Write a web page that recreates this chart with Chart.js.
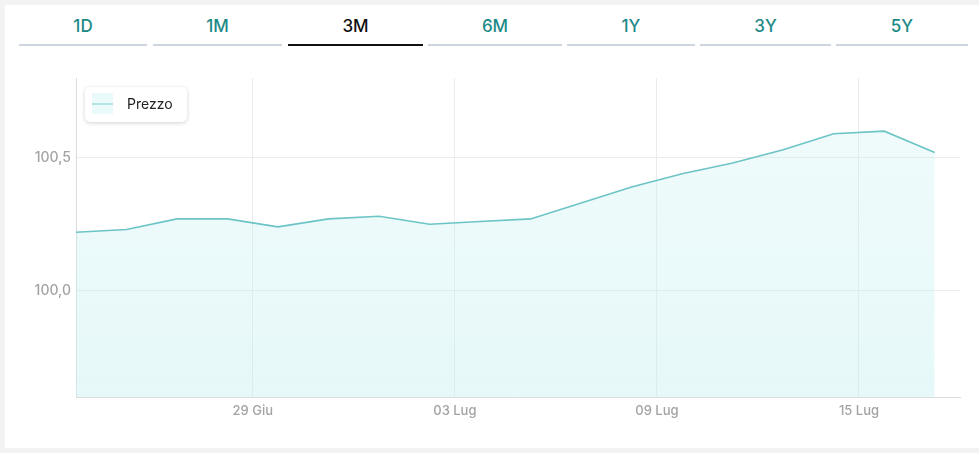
<!DOCTYPE html>
<html>
<head>
<meta charset="utf-8">
<script src="https://cdn.jsdelivr.net/npm/chart.js@4"></script>
<style>
    body { margin: 0; background: #f3f3f3; font-family: Inter, "Noto Sans", sans-serif; }
    .card { position: absolute; left: 5px; top: 5px; width: 974px; height: 443px; background: #fff; }
    .tabs { position: absolute; left: 0; top: 0; width: 979px; height: 50px; }
    .tab { position: absolute; top: 14px; height: 32px; text-align: center; font-size: 17px; font-weight: 500; color: #1b8a86; border-bottom: 2px solid #cdd5de; box-sizing: border-box; line-height: 25px; }
    .tab.active { color: #111; border-bottom-color: #111; }
    .wrap { position: absolute; left: 0; top: 0; width: 979px; height: 453px; }
    .legend { position: absolute; left: 85px; top: 87px; width: 102px; height: 35px; background: #fff; border-radius: 5px; box-shadow: 0 1px 4px rgba(0,0,0,0.18); }
    .legend .sw { position: absolute; left: 7px; top: 6px; width: 21px; height: 21px; background: #eafafa; }
    .legend .sw:after { content: ""; position: absolute; left: 0; top: 10px; width: 21px; height: 2px; background: #b5e4e4; }
    .legend span { position: absolute; left: 42px; top: 8px; font-size: 14px; color: #222; }
</style>
</head>
<body>
<div class="card"></div>
<div class="tabs" id="tabs"></div>
<div class="wrap"><canvas id="chart" width="979" height="453"></canvas></div>
<div class="legend"><div class="sw"></div><span>Prezzo</span></div>
<script>
var periods = ["1D", "1M", "3M", "6M", "1Y", "3Y", "5Y"];
var activePeriod = "3M";

var prices = [100.22, 100.23, 100.27, 100.27, 100.24, 100.27, 100.28, 100.25, 100.26,
    100.27, 100.33, 100.39, 100.44, 100.48, 100.53, 100.59, 100.60, 100.52];
var tickLabels = ["29 Giu", "03 Lug", "09 Lug", "15 Lug"];
var tickPositions = [3.5, 7.5, 11.5, 15.5];
var yTicks = [100.0, 100.5];

// tabs
var tabLeft = [19, 153, 288, 428, 567, 700, 836];
var tabRight = [147, 282, 423, 562, 695, 831, 968];
var tabs = document.getElementById("tabs");
periods.forEach(function (p, i) {
    var d = document.createElement("div");
    d.className = "tab" + (p == activePeriod ? " active" : "");
    d.style.left = tabLeft[i] + "px";
    d.style.width = (tabRight[i] - tabLeft[i]) + "px";
    d.textContent = p;
    tabs.appendChild(d);
});

var points = prices.map(function (v, i) { return { x: i, y: v }; });

var ctx = document.getElementById("chart").getContext('2d');
var grad = ctx.createLinearGradient(0, 78, 0, 397);
grad.addColorStop(0, 'rgba(200, 240, 242, 0.25)');
grad.addColorStop(1, 'rgba(200, 240, 242, 0.45)');

var myChart = new Chart(ctx, {
    type: 'line',
    data: {
        datasets: [{
            label: 'Prezzo',
            data: points,
            borderColor: '#6cc4c6',
            backgroundColor: grad,
            borderWidth: 1.6,
            fill: 'start',
            pointRadius: 0,
            tension: 0
        }]
    },
    options: {
        responsive: false,
        animation: false,
        layout: { padding: { left: 0, top: 78, right: 19, bottom: 26 } },
        plugins: { legend: { display: false }, tooltip: { enabled: false } },
        scales: {
            x: {
                type: 'linear',
                min: 0,
                max: 17.5,
                afterBuildTicks: function (s) {
                    s.ticks = tickPositions.map(function (v) { return { value: v }; });
                },
                afterFit: function (s) { s.height = 30; },
                grid: { color: '#ebebeb', drawTicks: false },
                border: { color: '#dcdcdc' },
                ticks: {
                    padding: 6,
                    color: '#a3a3a3',
                    font: { family: 'Inter', size: 13, weight: 500 },
                    callback: function (v) {
                        var i = tickPositions.indexOf(v);
                        return i >= 0 ? tickLabels[i] : '';
                    }
                }
            },
            y: {
                min: 99.6,
                max: 100.8,
                afterBuildTicks: function (s) {
                    s.ticks = yTicks.map(function (v) { return { value: v }; });
                },
                afterFit: function (s) { s.width = 76; },
                grid: { color: '#ebebeb', drawTicks: false },
                border: { color: '#dcdcdc' },
                ticks: {
                    padding: 5,
                    color: '#a3a3a3',
                    font: { family: 'Inter', size: 14, weight: 500 },
                    callback: function (v) { return v.toFixed(1).replace('.', ','); }
                }
            }
        }
    }
});
</script>
</body>
</html>
